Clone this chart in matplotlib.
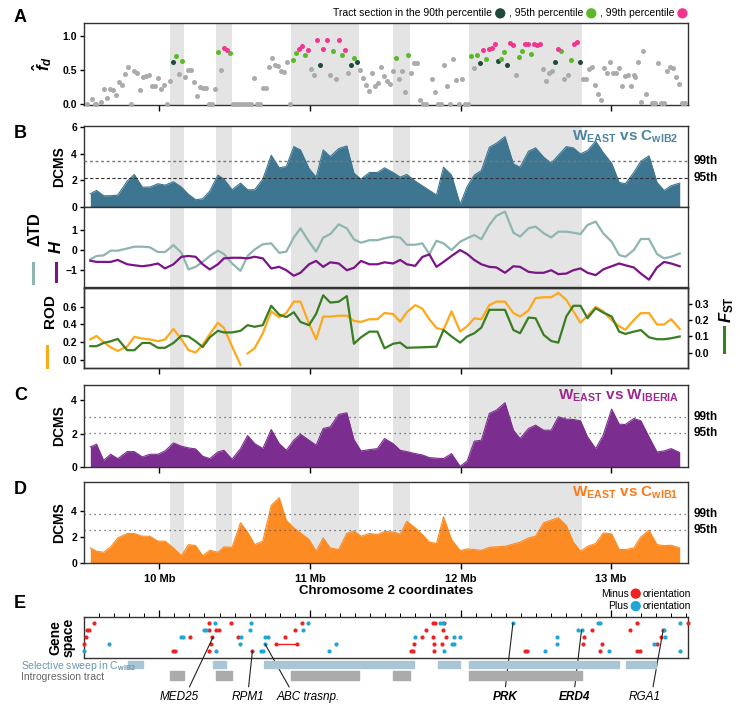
import matplotlib
matplotlib.use("Agg")
import matplotlib.pyplot as plt
from matplotlib.lines import Line2D
from matplotlib.patches import Circle
from matplotlib.offsetbox import TextArea, DrawingArea, HPacker, VPacker, AnchoredOffsetbox

plt.rcParams.update({
    "font.family": ["Liberation Sans", "DejaVu Sans"],
    "font.weight": "bold",
    "axes.labelweight": "bold",
    "mathtext.fontset": "custom",
    "mathtext.rm": "Liberation Sans",
    "mathtext.it": "Liberation Sans:italic:bold",
    "mathtext.bf": "Liberation Sans:bold",
    "axes.linewidth": 1.0,
    "axes.edgecolor": "#333333",
})

# introgression tracts (Mb)
tracts = [(10.07, 10.165), (10.375, 10.485), (10.872, 11.327), (11.552, 11.665), (12.054, 12.806)]
sweeps = [(9.793, 9.890), (10.357, 10.445), (10.696, 11.693), (11.850, 11.997), (12.053, 13.053), (13.100, 13.298)]

# panel A: f^d per tract section
fd_mb = [9.52, 9.55, 9.57, 9.58, 9.61, 9.63, 9.65, 9.67, 9.69, 9.71, 9.73, 9.75, 9.77, 9.79,
         9.81, 9.83, 9.85, 9.87, 9.89, 9.91, 9.93, 9.95, 9.97, 9.99, 10.01, 10.03, 10.05, 10.07,
         10.09, 10.11, 10.13, 10.15, 10.17, 10.19, 10.21, 10.23, 10.25, 10.27, 10.29, 10.31, 10.33,
         10.35, 10.37, 10.39, 10.41, 10.43, 10.45, 10.47,
         10.49, 10.51, 10.53, 10.55, 10.57, 10.59, 10.61, 10.63, 10.65, 10.67, 10.69, 10.71, 10.73,
         10.75, 10.77, 10.79, 10.81, 10.83, 10.85, 10.87,
         10.89, 10.91, 10.93, 10.95, 10.97, 10.99, 11.01, 11.03, 11.05, 11.07, 11.09, 11.11, 11.13,
         11.15, 11.17, 11.19, 11.21, 11.23, 11.25, 11.27, 11.29, 11.31, 11.33,
         11.35, 11.37, 11.39, 11.41, 11.43, 11.45, 11.47, 11.49, 11.51, 11.53, 11.55, 11.57, 11.59,
         11.61, 11.63, 11.65, 11.67, 11.69, 11.71, 11.73, 11.75, 11.77, 11.81, 11.83, 11.85, 11.87,
         11.89, 11.91, 11.93, 11.95, 11.97, 11.99, 12.01, 12.03, 12.05,
         12.07, 12.09, 12.11, 12.13, 12.15, 12.17, 12.19, 12.21, 12.23, 12.25, 12.27, 12.29, 12.31,
         12.33, 12.35, 12.37, 12.39, 12.41, 12.43, 12.45, 12.47, 12.49, 12.51, 12.53, 12.55, 12.57,
         12.59, 12.61, 12.63, 12.65, 12.67, 12.69, 12.71, 12.73, 12.75, 12.77, 12.79,
         12.81, 12.83, 12.85, 12.87, 12.89, 12.91, 12.93, 12.95, 12.97, 12.99, 13.01, 13.03, 13.05,
         13.07, 13.09, 13.11, 13.13, 13.15, 13.16, 13.18, 13.20, 13.21, 13.23, 13.27, 13.29, 13.31,
         13.33, 13.35, 13.37, 13.39, 13.41, 13.43, 13.45, 13.47, 13.49]
fd_val = [0, 0.07, 0, 0, 0.03, 0.22, 0.09, 0.22, 0.21, 0.13, 0.32, 0.28, 0.44, 0.54,
          0, 0.48, 0.45, 0.20, 0.39, 0.41, 0.42, 0.27, 0.26, 0.38, 0.22, 0.28, 0, 0.33,
          0.62, 0.71, 0.44, 0.64, 0.40, 0.50, 0.50, 0.32, 0.12, 0.25, 0.24, 0.23, 0,
          0, 0.22, 0.77, 0.50, 0.83, 0.80, 0.75,
          0, 0, 0, 0, 0, 0, 0, 0.38, 0, 0, 0.24, 0.23, 0.55,
          0.68, 0.58, 0.56, 0.49, 0.47, 0.62, 0,
          0.65, 0.76, 0.82, 0.86, 0.72, 0.80, 0.52, 0.42, 0.94, 0.58, 0.81, 0.94, 0.42,
          0.79, 0.37, 0.94, 0.72, 0.80, 0.45, 0.57, 0.68, 0.62, 0.50,
          0.38, 0.28, 0.19, 0.46, 0.26, 0.31, 0.54, 0.41, 0.33, 0.29, 0.48, 0.68, 0.37,
          0.48, 0.18, 0.73, 0.46, 0.60, 0.60, 0.05, 0, 0, 0.37, 0.17, 0, 0,
          0.58, 0.27, 0, 0.67, 0.35, 0, 0.36, 0, 0,
          0.71, 0.53, 0.73, 0.60, 0.80, 0.66, 0.81, 0.83, 0.89, 0.63, 0.66, 0.77, 0.58,
          0.90, 0.87, 0.42, 0.70, 0.79, 0.89, 0.89, 0.74, 0.89, 0.88, 0.89, 0.51, 0.34,
          0.46, 0.49, 0.62, 0.81, 0.78, 0.36, 0.42, 0.65, 0.89, 0.91, 0.62,
          0.37, 0.36, 0.51, 0.54, 0.28, 0.14, 0.06, 0.53, 0.46, 0.62, 0.46, 0.46, 0.53,
          0.26, 0.41, 0.42, 0.26, 0.42, 0.39, 0.62, 0.02, 0.79, 0.15, 0.01, 0.01, 0.60,
          0.01, 0.01, 0.48, 0.55, 0.53, 0.39, 0.29, 0.01, 0.01]
# n = not significant, d = 90th, g = 95th, p = 99th percentile
fd_cls = ("nnnnnnnnnnnnnnnnnnnnnnnnnnnn"
          "dgngnnnnnnnnnnngnppg"
          "nnnnnnnnnnnnnnnnnnnn"
          "ggppgpnnpdppngnpgpndgdn"
          "nnnnnnnnnnngnnngnnnnnnnnnnnnnnnnnnn"
          "gngdpgpppdggdppnggppgpppnnnndpgnngppd"
          "nnnnnnnnnnnnnnnnnnnnnnnnnnnnnnnnnnn")

# sliding windows (Mb) shared by panels B-D
win = [9.542, 9.583, 9.630, 9.677, 9.724, 9.787, 9.834, 9.887, 9.937, 9.991,
       10.038, 10.094, 10.147, 10.194, 10.241, 10.288, 10.335, 10.389, 10.429, 10.483,
       10.539, 10.586, 10.633, 10.687, 10.743, 10.796, 10.843, 10.893, 10.937, 10.994,
       11.041, 11.088, 11.135, 11.191, 11.245, 11.292, 11.339, 11.395, 11.448, 11.495,
       11.552, 11.599, 11.643, 11.699, 11.746, 11.793, 11.840, 11.887, 11.940, 11.997,
       12.044, 12.091, 12.138, 12.191, 12.238, 12.295, 12.351, 12.395, 12.451, 12.498,
       12.552, 12.602, 12.649, 12.702, 12.749, 12.796, 12.843, 12.897, 12.947, 13.003,
       13.053, 13.094, 13.150, 13.197, 13.251, 13.304, 13.351, 13.398, 13.455]

dcms_wib2 = [1.0, 1.25, 0.85, 0.85, 0.9, 1.95, 2.45, 1.5, 1.5, 1.75,
             1.65, 1.9, 1.5, 0.95, 0.55, 0.62, 1.2, 2.4, 2.1, 1.3,
             1.8, 1.3, 1.3, 2.1, 3.9, 2.95, 3.05, 4.55, 4.3, 2.9,
             2.25, 4.3, 3.8, 4.4, 4.6, 2.55, 2.1, 2.6, 2.6, 2.95,
             2.6, 2.25, 2.45, 1.95, 1.6, 1.25, 0.9, 3.0, 2.4, 0.2,
             1.55, 2.4, 2.75, 4.5, 4.8, 5.3, 3.25, 3.0, 4.2, 4.45,
             3.75, 3.3, 3.9, 4.55, 4.45, 4.0, 4.25, 4.95, 4.1, 3.3,
             1.85, 1.75, 2.6, 3.45, 3.85, 1.85, 1.25, 1.6, 1.8]
delta_td = [-0.47, -0.3, -0.27, -0.03, -0.03, 0.08, 0.17, 0.17, 0.14, -0.1,
            -0.1, 0.25, -0.14, -0.98, -0.85, -0.6, -0.3, -0.03, -0.2, -0.68,
            -1.05, -0.3, 0.03, 0.29, 0.34, -0.14, -0.08, 0.64, 1.1, 0.42,
            -0.08, 0.63, 0.81, 1.3, 1.1, 0.54, 0.37, 0.5, 0.5, 0.6,
            0.68, 0.63, 0.27, 0.27, 0.34, -0.2, 0.47, 0.34, 0.0, 0.42,
            0.6, 0.76, 0.55, 1.27, 1.73, 1.95, 0.88, 0.68, 1.1, 1.19,
            0.85, 0.64, 0.93, 0.93, 0.88, 0.81, 1.27, 1.44, 0.85, 0.42,
            -0.25, -0.34, 0.0, 0.56, 0.56, -0.2, -0.42, -0.34, -0.17]
h_stat = [-0.54, -0.6, -0.6, -0.6, -0.5, -0.72, -0.77, -0.82, -0.77, -0.68,
          -0.93, -0.72, -0.34, -0.3, -0.34, -0.72, -0.98, -0.72, -0.42, -0.39,
          -0.39, -0.42, -0.34, -0.42, -0.93, -0.85, -1.02, -1.3, -1.15, -0.72,
          -0.55, -0.85, -0.62, -0.68, -1.02, -0.9, -0.55, -0.72, -0.72, -0.62,
          -0.68, -0.5, -0.72, -0.8, -0.35, -0.22, -0.85, -0.6, -0.3, 0.0,
          -0.2, -0.5, -0.72, -0.85, -0.88, -1.15, -0.82, -0.85, -1.1, -1.15,
          -1.15, -1.02, -1.22, -1.19, -1.02, -0.93, -1.15, -1.27, -0.98, -0.82,
          -0.68, -0.77, -0.88, -1.19, -1.5, -0.88, -0.6, -0.68, -0.82]
rod = [0.23, 0.27, 0.2, 0.14, 0.1, 0.15, 0.26, 0.24, 0.23, 0.21,
       0.23, 0.35, 0.23, 0.11, 0.08, 0.17, 0.29, 0.42, 0.36, 0.15,
       -0.06, 0.07, 0.13, 0.3, 0.55, 0.48, 0.53, 0.66, 0.66, 0.41,
       0.23, 0.49, 0.49, 0.5, 0.5, 0.44, 0.43, 0.46, 0.46, 0.53,
       0.52, 0.43, 0.54, 0.62, 0.58, 0.46, 0.36, 0.34, 0.55, 0.32,
       0.38, 0.47, 0.46, 0.62, 0.66, 0.66, 0.53, 0.49, 0.56, 0.7,
       0.71, 0.71, 0.76, 0.68, 0.55, 0.42, 0.5, 0.6, 0.55, 0.45,
       0.38, 0.34, 0.45, 0.53, 0.53, 0.4, 0.4, 0.46, 0.35]
rod_break = 21  # ROD line is interrupted after this window
fst = [0.04, 0.04, 0.06, 0.07, 0.085, 0.015, 0.015, 0.06, 0.06, 0.03,
       0.03, 0.06, 0.105, 0.1, 0.07, 0.035, 0.095, 0.135, 0.125, 0.125,
       0.135, 0.17, 0.16, 0.17, 0.29, 0.235, 0.22, 0.25, 0.19, 0.17,
       0.24, 0.355, 0.31, 0.315, 0.35, 0.055, 0.095, 0.13, 0.13, 0.027,
       0.055, 0.062, 0.03, 0.032, 0.033, 0.035, 0.037, 0.14, 0.1, 0.062,
       0.1, 0.12, 0.155, 0.265, 0.265, 0.265, 0.14, 0.12, 0.217, 0.213,
       0.11, 0.072, 0.062, 0.224, 0.29, 0.29, 0.213, 0.275, 0.248, 0.224,
       0.13, 0.116, 0.13, 0.14, 0.095, 0.083, 0.083, 0.089, 0.1]
dcms_iberia = [1.2, 1.36, 0.4, 0.76, 0.5, 0.92, 0.92, 0.6, 0.76, 0.76,
               0.96, 1.44, 1.24, 1.14, 1.08, 0.64, 0.5, 0.9, 1.0, 0.46,
               1.1, 1.88, 1.4, 1.1, 2.24, 1.4, 1.0, 1.6, 1.96, 1.6,
               1.3, 2.3, 2.4, 3.14, 3.24, 1.64, 0.96, 1.04, 1.1, 1.7,
               1.4, 1.0, 0.92, 0.8, 0.72, 0.56, 0.53, 0.5, 0.8, 0.04,
               0.36, 1.54, 1.6, 3.2, 3.4, 3.84, 2.2, 1.7, 2.3, 2.5,
               2.2, 2.2, 3.0, 2.86, 2.84, 2.76, 1.8, 1.1, 1.9, 3.46,
               2.56, 2.54, 2.9, 2.76, 1.8, 0.9, 0.96, 1.1, 0.86]
dcms_wib1 = [1.15, 0.9, 0.82, 1.23, 1.92, 2.26, 2.26, 2.05, 2.05, 1.67,
             1.67, 1.15, 0.56, 1.41, 1.33, 0.56, 0.97, 0.82, 1.23, 1.2,
             3.08, 2.36, 1.41, 1.67, 4.41, 5.0, 3.28, 2.69, 2.3, 1.8,
             0.9, 1.92, 1.15, 1.03, 2.26, 2.44, 2.05, 2.26, 2.18, 2.41,
             2.38, 2.2, 3.2, 2.69, 2.18, 1.6, 1.49, 3.54, 1.8, 0.95,
             1.08, 1.03, 0.97, 1.2, 1.24, 1.28, 1.45, 1.59, 1.92, 2.05,
             3.08, 3.28, 3.46, 2.87, 1.59, 0.9, 1.28, 1.49, 2.3, 2.23,
             1.03, 1.03, 1.15, 2.0, 2.51, 1.41, 1.33, 1.36, 1.15]

# percentile thresholds (99th, 95th)
thr_wib2 = (3.45, 2.22)
thr_iberia = (3.0, 2.04)
thr_wib1 = (3.72, 2.56)

# panel E: genes (Mb, row, strand)
gene_mb = [9.567, 10.329, 10.476, 10.947, 11.818, 11.831, 11.887, 13.172, 13.511,
           10.367, 10.611, 10.984, 11.865, 11.881, 12.348, 12.912, 12.928, 13.455,
           9.520, 9.536, 10.329, 10.376, 10.398, 10.900, 11.771, 11.881, 12.875, 13.125, 13.345,
           10.298, 10.313, 10.602, 10.956, 12.781, 12.803, 13.351,
           9.511, 10.204, 10.351, 10.524, 10.837, 11.746, 11.818, 11.903, 12.821, 13.329,
           10.141, 10.157, 10.545, 10.702, 10.721, 11.699, 11.956, 11.997, 12.639, 13.354,
           9.498, 10.342, 10.775, 10.915, 11.690, 11.824, 11.878, 12.812, 12.937, 13.307,
           9.668, 10.539, 10.702, 11.176, 11.944, 11.956, 12.639, 13.282,
           10.091, 10.107, 10.329, 10.618, 11.668, 11.687, 11.824, 12.426, 12.442, 12.928, 13.172, 13.194,
           9.498, 10.376, 10.674, 10.690, 11.125, 11.887, 12.561, 12.984, 13.455]
gene_row = [5] * 18 + [4] * 18 + [3] * 20 + [2] * 18 + [1] * 21
gene_strand = (list("---------") + list("+++++++++") +
               list("-----------") + list("+++++++") +
               list("----------") + list("++++++++++") +
               list("----------") + list("++++++++") +
               list("------------") + list("+++++++++"))
long_genes = [(10.775, 10.915, 2)]

labels_e = ["MED25", "RPM1", "ABC trasnp.", "PRK", "ERD4", "RGA1"]
label_target = [(10.357, 3), (10.618, 1), (10.702, 2), (12.348, 5), (12.803, 4), (13.345, 4)]
label_x = [10.13, 10.59, 10.99, 12.295, 12.755, 13.22]
label_bold = [False, False, False, True, True, False]
label_relpos = [0.72, 0.5, 0.23, 0.5, 0.5, 0.75]

C_GRAY = "#e4e4e4"
dot_colors = {"n": "#ababab", "d": "#1f4a3a", "g": "#5cb82a", "p": "#f2368f"}

W, H = 740, 714
fig = plt.figure(figsize=(W / 100, H / 100), dpi=100)


def box(top, bottom, left=84, right=688):
    return [left / W, 1 - bottom / H, (right - left) / W, (bottom - top) / H]


axA = fig.add_axes(box(23, 105))
axB = fig.add_axes(box(126, 207))
axT = fig.add_axes(box(207, 287))
axR = fig.add_axes(box(288, 368))
axC = fig.add_axes(box(385, 467))
axD = fig.add_axes(box(482, 563))
axE = fig.add_axes(box(617, 658))
axS = fig.add_axes(box(660, 683))

XLIM = (9.50, 13.51)
for ax in [axA, axB, axT, axR, axC, axD]:
    ax.set_xlim(*XLIM)
    for s, e in tracts:
        ax.axvspan(s, e, color=C_GRAY, lw=0, zorder=0)
    ax.set_xticks([10, 11, 12, 13])
    ax.tick_params(axis="x", direction="out", length=4, width=1, labelbottom=False)
    ax.tick_params(axis="y", direction="out", length=3, width=1, labelsize=7.5, pad=2)

# A
for c in ["n", "d", "g", "p"]:
    xs = [m for m, k in zip(fd_mb, fd_cls) if k == c]
    ys = [v for v, k in zip(fd_val, fd_cls) if k == c]
    axA.scatter(xs, ys, s=13, color=dot_colors[c], lw=0, zorder=3, clip_on=False)
axA.set_ylim(-0.02, 1.2)
axA.set_yticks([0, 0.5, 1.0])
axA.set_yticklabels(["0.0", "0.5", "1.0"])
axA.set_ylabel(r"$\hat{f}_{d}$", fontsize=12, labelpad=6)


def dot(color):
    da = DrawingArea(8, 8, 0, 0)
    da.add_artist(Circle((4, 4), 3.2, color=color))
    return da


leg_items = [TextArea("Tract section in the 90th percentile", textprops=dict(fontsize=7.5, fontweight="normal")),
             dot(dot_colors["d"]),
             TextArea(", 95th percentile", textprops=dict(fontsize=7.5, fontweight="normal")),
             dot(dot_colors["g"]),
             TextArea(", 99th percentile", textprops=dict(fontsize=7.5, fontweight="normal")),
             dot(dot_colors["p"])]
legA = AnchoredOffsetbox(loc="lower right", child=HPacker(children=leg_items, align="center", pad=0, sep=2),
                         bbox_to_anchor=(1.0, 1.05), bbox_transform=axA.transAxes, frameon=False,
                         pad=0, borderpad=0)
axA.add_artist(legA)


def dcms_panel(ax, vals, color, title_color, title, thr, ylim, yticks, dash99):
    ax.fill_between(win, vals, 0, color=color, lw=0, zorder=2)
    ax.plot(win, vals, color=color, lw=0.8, zorder=2)
    ax.set_ylim(*ylim)
    ax.set_yticks(yticks)
    ax.axhline(thr[0], color="#777777" if dash99 else "#555555", lw=1.0 if dash99 else 0.9,
               ls=(0, (2, 2)) if dash99 else (0, (1, 3)), zorder=3)
    ax.axhline(thr[1], color="#333333" if dash99 else "#555555", lw=0.8 if dash99 else 0.9,
               ls=(0, (3, 2)) if dash99 else (0, (1, 3)), zorder=3)
    tr = ax.get_yaxis_transform()
    ax.text(1.01, thr[0], "99th", transform=tr, ha="left", va="center", fontsize=8.5)
    ax.text(1.01, thr[1], "95th", transform=tr, ha="left", va="center", fontsize=8.5)
    ax.text(0.985, 0.97, title, transform=ax.transAxes, ha="right", va="top",
            fontsize=11, color=title_color, zorder=4)
    ax.set_ylabel("DCMS", fontsize=10, labelpad=4)


dcms_panel(axB, dcms_wib2, "#3e7691", "#4d84a0", r"$\mathbf{W_{EAST}}$ vs $\mathbf{C_{wIB2}}$",
           thr_wib2, (0, 6.1), [0, 2, 4, 6], True)
dcms_panel(axC, dcms_iberia, "#7c2d90", "#9a2b8c", r"$\mathbf{W_{EAST}}$ vs $\mathbf{W_{IBERIA}}$",
           thr_iberia, (0, 4.9), [0, 2, 4], False)
dcms_panel(axD, dcms_wib1, "#fd8b23", "#fd7a1a", r"$\mathbf{W_{EAST}}$ vs $\mathbf{C_{wIB1}}$",
           thr_wib1, (0, 6.2), [0, 2, 4], False)

# delta TD and H
axT.plot(win, delta_td, color="#8fb5b3", lw=1.6, zorder=3)
axT.plot(win, h_stat, color="#7a1487", lw=1.6, zorder=3)
axT.set_ylim(-1.87, 2.18)
axT.set_yticks([-1, 0, 1])
axT.set_yticklabels(["\u22121", "0", "1"])
fig.text(35 / W, 1 - 229 / H, "\u0394TD", rotation=90, ha="center", va="center", fontsize=12)
fig.text(56 / W, 1 - 247 / H, r"$H$", rotation=90, ha="center", va="center", fontsize=12)
fig.add_artist(Line2D([33 / W, 33 / W], [1 - 263 / H, 1 - 283 / H], color="#8fb5b3", lw=2.2))
fig.add_artist(Line2D([56 / W, 56 / W], [1 - 263 / H, 1 - 281 / H], color="#7a1487", lw=2.2))

# ROD and FST
axF = axR.twinx()
axR.plot(win[:rod_break], rod[:rod_break], color="#fca91b", lw=1.6, zorder=3)
axR.plot(win[rod_break:], rod[rod_break:], color="#fca91b", lw=1.6, zorder=3)
axF.plot(win, fst, color="#3b7d23", lw=1.6, zorder=3)
axR.set_ylim(-0.095, 0.815)
axR.set_yticks([0, 0.2, 0.4, 0.6])
axR.set_yticklabels(["0.0", "0.2", "0.4", "0.6"])
axF.set_ylim(-0.095, 0.40)
axF.set_yticks([0, 0.1, 0.2, 0.3])
axF.set_yticklabels(["0.0", "0.1", "0.2", "0.3"])
axF.tick_params(axis="y", direction="out", length=3, width=1, labelsize=7.5, pad=2)
fig.text(50 / W, 1 - 311 / H, "ROD", rotation=90, ha="center", va="center", fontsize=11)
fig.add_artist(Line2D([47 / W, 47 / W], [1 - 346 / H, 1 - 367 / H], color="#fca91b", lw=2.2))
fig.text(727 / W, 1 - 310 / H, r"$F_{\mathrm{ST}}$", rotation=90, ha="center", va="center", fontsize=12)
fig.add_artist(Line2D([724 / W, 724 / W], [1 - 327 / H, 1 - 352 / H], color="#3b7d23", lw=2.2))

# x labels under D
axD.set_xticks([10, 11, 12, 13])
axD.set_xticklabels(["10 Mb", "11 Mb", "12 Mb", "13 Mb"])
axD.tick_params(axis="x", labelbottom=True, labelsize=8, pad=4)
axD.set_xlabel("Chromosome 2 coordinates", fontsize=9.5, labelpad=1)

# E: gene space
gcol = {"-": "#ee2222", "+": "#1fa6d6"}
for s, e, r in long_genes:
    axE.plot([s, e], [r, r], color=gcol["-"], lw=1.0, zorder=2)
for st in ["-", "+"]:
    xs = [m for m, k in zip(gene_mb, gene_strand) if k == st]
    ys = [r for r, k in zip(gene_row, gene_strand) if k == st]
    axE.scatter(xs, ys, s=9, color=gcol[st], lw=0, zorder=3, clip_on=False)
axE.set_xlim(*XLIM)
axE.set_ylim(0, 5.86)
axE.set_yticks([])
axE.xaxis.set_ticks_position("top")
axE.set_xticks([10, 11, 12, 13])
axE.set_xticks([v / 10 for v in range(96, 136)], minor=True)
axE.tick_params(axis="x", which="major", direction="out", length=5, width=0.9, labeltop=False, labelbottom=False)
axE.tick_params(axis="x", which="minor", direction="out", length=3, width=0.7)
axE.set_ylabel("Gene\nspace", fontsize=10, labelpad=6, linespacing=0.95)

for name, (tx, ty), lx, bold, rp in zip(labels_e, label_target, label_x, label_bold, label_relpos):
    axE.annotate(name, xy=(tx, ty), xycoords="data", xytext=(lx, -0.95),
                 textcoords=("data", "axes fraction"), ha="center", va="center",
                 fontsize=8.5, style="italic", fontweight="bold" if bold else "normal",
                 annotation_clip=False,
                 arrowprops=dict(arrowstyle="-", color="#222222", lw=0.8, shrinkA=1, shrinkB=0,
                                 relpos=(rp, 1.0)))


def ori_row(word):
    return HPacker(children=[TextArea(word, textprops=dict(fontsize=7.5, fontweight="normal")),
                             dot(gcol["-"] if word == "Minus" else gcol["+"]),
                             TextArea("orientation", textprops=dict(fontsize=7.5, fontweight="normal"))],
                   align="center", pad=0, sep=1)


legE = AnchoredOffsetbox(loc="lower right", child=VPacker(children=[ori_row("Minus"), ori_row("Plus")],
                                                           align="right", pad=0, sep=1),
                         bbox_to_anchor=(1.005, 1.13), bbox_transform=axE.transAxes, frameon=False,
                         pad=0, borderpad=0)
axE.add_artist(legE)

# sweep and introgression bars
axS.set_xlim(*XLIM)
axS.set_ylim(0, 1)
axS.axis("off")
axS.broken_barh([(s, e - s) for s, e in sweeps], (0.64, 0.3), color="#a9c6d4")
axS.broken_barh([(s, e - s) for s, e in tracts], (0.14, 0.38), color="#ababab")
fig.text(21 / W, 1 - 666 / H, r"Selective sweep in C$_{\mathrm{wIB2}}$", fontsize=7.5, fontweight="normal",
         color="#6a98ad", va="center")
fig.text(21 / W, 1 - 677 / H, "Introgression tract", fontsize=7.5, fontweight="normal",
         color="#666666", va="center")

for letter, yy in zip("ABCDE", [18, 133, 395, 490, 603]):
    fig.text(14 / W, 1 - yy / H, letter, fontsize=13, ha="left", va="center")

fig.savefig("out.png", dpi=100)
